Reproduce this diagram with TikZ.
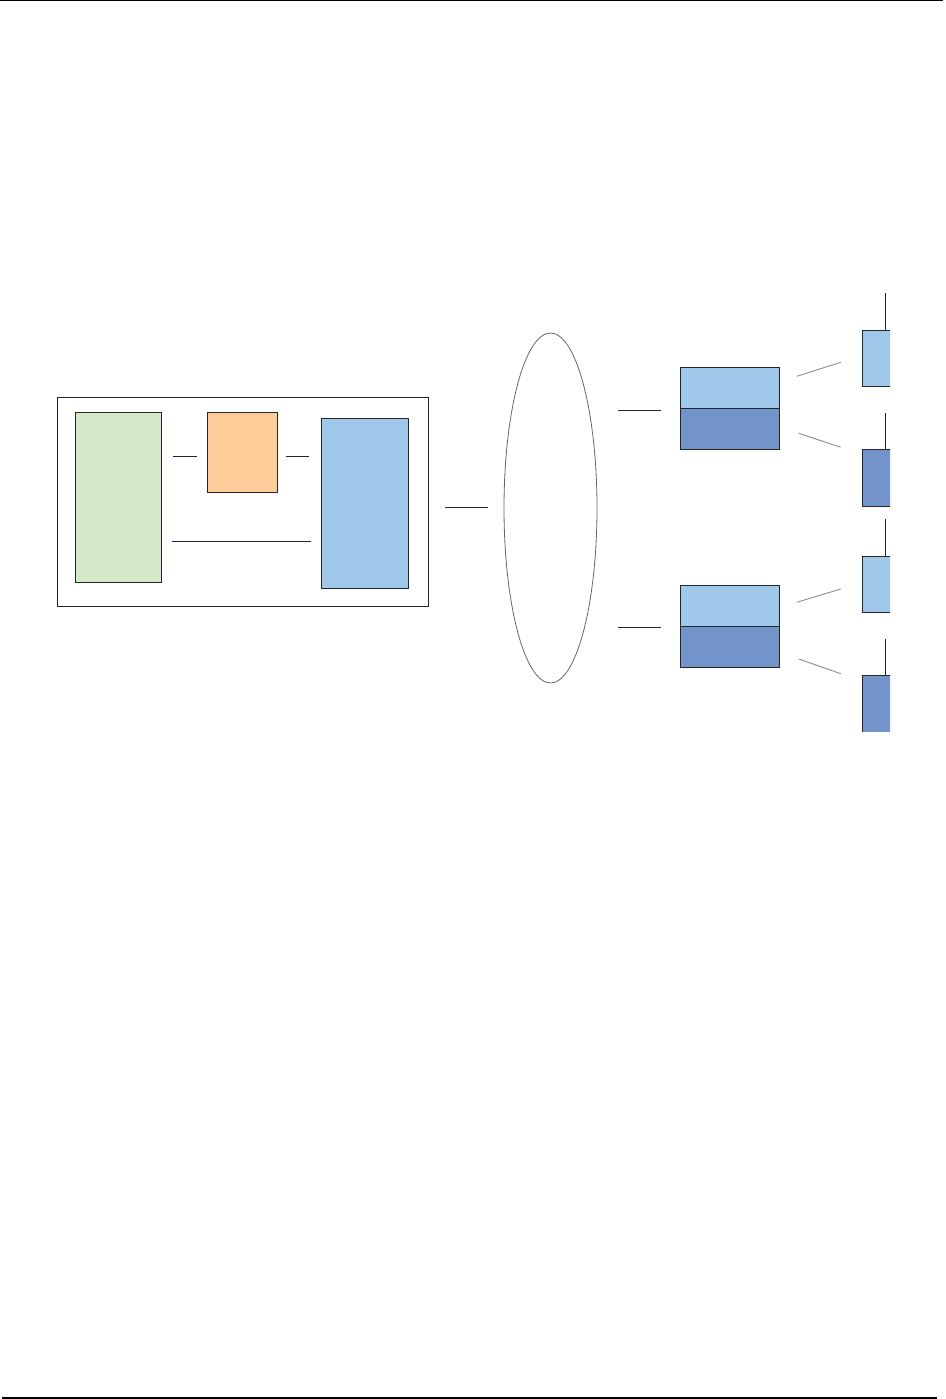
\documentclass[tikz,border=0pt]{standalone}
\usepackage{tikz}
\usetikzlibrary{positioning,calc,shapes.geometric}

\definecolor{hostgreen}{RGB}{211,233,199}
\definecolor{bridgeorange}{RGB}{254,204,153}
\definecolor{lightblue}{RGB}{160,200,234}
\definecolor{darkblue}{RGB}{115,147,203}

\tikzset{
  box/.style={draw=black!85, line width=1pt, inner sep=0pt, outer sep=0pt},
  link/.style={draw=black!85, line width=1pt},
  radio/.style={draw=black!45, line width=0.9pt},
}

\begin{document}
\begin{tikzpicture}[x=1pt,y=-1pt]
				\useasboundingbox (0,0) rectangle (945,1399);
				% page rules
				\fill [black] (0,0) rectangle (943,1.5);
				\fill [black] (2,1397) rectangle (936.5,1399);
				% host
				\node [box, minimum width=371, minimum height=209] (host) at (242.8,501.8) {};
				\node [box, fill=hostgreen, minimum width=86, minimum height=170] (app) at (118.3,497.3) {};
				\node [box, fill=bridgeorange, minimum width=70, minimum height=80] (bridge) at (242.3,452.3) {};
				\node [box, fill=lightblue, minimum width=87, minimum height=170] (server) at (364.8,503.3) {};
				\draw [link] ($(bridge.west)+(-34,4)$) -- ++(23.7,0);
				\draw [link] ($(bridge.east)+(8.4,4)$) -- ++(23.3,0);
				\draw [link] ($(app.east)+(10.7,44)$) -- ($(server.west)+(-10.6,38)$);
				% network
				\node [draw=black!60, line width=0.8pt, ellipse, inner sep=0pt, minimum width=93, minimum height=350] (net) at (550.5,508) {};
				\draw [link] ($(host.east)+(17,5.5)$) -- ++(42.4,0);
				% gateways
				\node [box, fill=lightblue, minimum width=99, minimum height=41] (gwAup) at (729.8,387.8) {};
				\node [box, fill=darkblue, minimum width=99, minimum height=41, below=0pt of gwAup] (gwAlo) {};
				\node [box, fill=lightblue, minimum width=99, minimum height=41] (gwBup) at (729.8,605.8) {};
				\node [box, fill=darkblue, minimum width=99, minimum height=41, below=0pt of gwBup] (gwBlo) {};
				\draw [link] ($(gwAup.south west)+(-62,2)$) -- ++(42.4,0);
				\draw [link] ($(gwBup.south west)+(-62,1)$) -- ++(42.4,0);
				% end devices
				\begin{scope}
				\clip (0,0) rectangle (890,731.7);
				\node [box, fill=lightblue, minimum width=46, minimum height=56] (devA) at (885.3,358.3) {};
				\node [box, fill=darkblue, minimum width=46, minimum height=57] (devB) at (885.3,477.8) {};
				\node [box, fill=lightblue, minimum width=46, minimum height=56] (devC) at (885.3,584.3) {};
				\node [box, fill=darkblue, minimum width=46, minimum height=57] (devD) at (885.3,703.8) {};
				\end{scope}
				\draw [link] (devA.north) -- ++(0,-37);
				\draw [link] (devB.north) -- ++(0,-36.6);
				\draw [link] (devC.north) -- ++(0,-37.3);
				\draw [link] (devD.north) -- ++(0,-36.6);
				% radio links
				\draw [radio] ($(gwAup.east)+(17.5,-11.5)$) -- ($(devA.west)+(-21.6,4)$);
				\draw [radio] ($(gwAlo.east)+(19.5,4.5)$) -- ($(devB.west)+(-21.6,-30.5)$);
				\draw [radio] ($(gwBup.east)+(17.5,-3.5)$) -- ($(devC.west)+(-21.6,4.7)$);
				\draw [radio] ($(gwBlo.east)+(19.5,12.2)$) -- ($(devD.west)+(-21.6,-30.1)$);
\end{tikzpicture}
\end{document}
